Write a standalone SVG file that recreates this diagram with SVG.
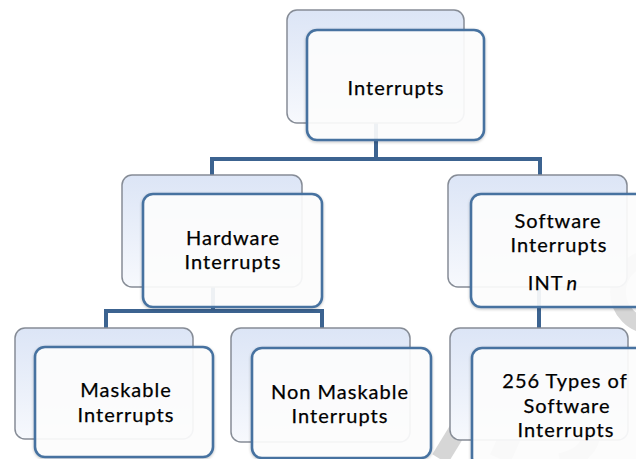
<svg xmlns="http://www.w3.org/2000/svg" width="636" height="459" viewBox="0 0 636 459">
<defs>
<linearGradient id="bg" x1="0" y1="0" x2="0" y2="1">
<stop offset="0" stop-color="#dce5f6"/>
<stop offset="1" stop-color="#f7f9fd"/>
</linearGradient>
<filter id="sh" x="-10%" y="-10%" width="120%" height="120%">
<feGaussianBlur in="SourceAlpha" stdDeviation="1.5"/>
<feOffset dx="0" dy="1"/>
<feComponentTransfer><feFuncA type="linear" slope="0.25"/></feComponentTransfer>
<feMerge><feMergeNode/><feMergeNode in="SourceGraphic"/></feMerge>
</filter>
</defs>
<style>
.back{fill:url(#bg);stroke:#868c96;stroke-width:1.5}
.front{fill:#ffffff;fill-opacity:0.9;stroke:#4672a0;stroke-width:2.6}
.conn{fill:none;stroke:#3c6390;stroke-width:4;stroke-linejoin:miter}
.wm{fill:none;stroke:#d6d6d6;stroke-linecap:butt}
text{font-family:Lato,"Open Sans","Liberation Sans",sans-serif;font-size:20px;fill:#000000;text-anchor:middle;letter-spacing:1px;stroke:#000000;stroke-width:0.25px}
</style>
<rect width="636" height="459" fill="#ffffff"/>
<g id="watermark">
<circle class="wm" cx="652" cy="292" r="34" stroke-width="16"/>
<path class="wm" d="M 600 352 C 560 360 560 395 580 410 C 600 425 595 455 560 462" stroke-width="18"/>
<path class="wm" d="M 548 352 L 500 459" stroke-width="22"/>
<path class="wm" d="M 470 410 L 440 459" stroke-width="18"/>
</g>
<g id="connectors">
<path class="conn" d="M 376 122 V 159"/>
<path class="conn" d="M 212 175 V 159 H 540 V 175"/>
<path class="conn" d="M 213 175 V 311"/>
<path class="conn" d="M 106 328 V 311 H 322 V 328"/>
<path class="conn" d="M 539 175 V 330"/>
</g>
<g id="n-interrupts">
<rect class="back" x="287" y="10" width="177" height="113" rx="10"/>
<rect class="front" x="307" y="30" width="177" height="110" rx="10" filter="url(#sh)"/>
<text x="396" y="95">Interrupts</text>
</g>
<g id="n-hardware">
<rect class="back" x="122" y="175" width="180" height="112" rx="10"/>
<rect class="front" x="143" y="194" width="179" height="113" rx="10" filter="url(#sh)"/>
<text x="233" y="245">Hardware</text>
<text x="233" y="269">Interrupts</text>
</g>
<g id="n-software">
<rect class="back" x="448" y="175" width="179" height="112" rx="10"/>
<rect class="front" x="471" y="194" width="180" height="113" rx="10" filter="url(#sh)"/>
<text x="558" y="228">Software</text>
<text x="559" y="252">Interrupts</text>
<text x="553" y="290">INT<tspan dx="3" font-style="italic">n</tspan></text>
</g>
<g id="n-maskable">
<rect class="back" x="15" y="328" width="178" height="111" rx="10"/>
<rect class="front" x="35" y="347" width="178" height="110" rx="10" filter="url(#sh)"/>
<text x="126" y="397">Maskable</text>
<text x="126" y="422">Interrupts</text>
</g>
<g id="n-nonmaskable">
<rect class="back" x="231" y="328" width="179" height="114" rx="10"/>
<rect class="front" x="252" y="348" width="179" height="110" rx="10" filter="url(#sh)"/>
<text x="340" y="399">Non Maskable</text>
<text x="340" y="423">Interrupts</text>
</g>
<g id="n-256types">
<rect class="back" x="450" y="328" width="178" height="112" rx="10"/>
<rect class="front" x="472" y="348" width="180" height="120" rx="10" filter="url(#sh)"/>
<text x="565" y="388">256 Types of</text>
<text x="567" y="413">Software</text>
<text x="566" y="437">Interrupts</text>
</g>
</svg>
